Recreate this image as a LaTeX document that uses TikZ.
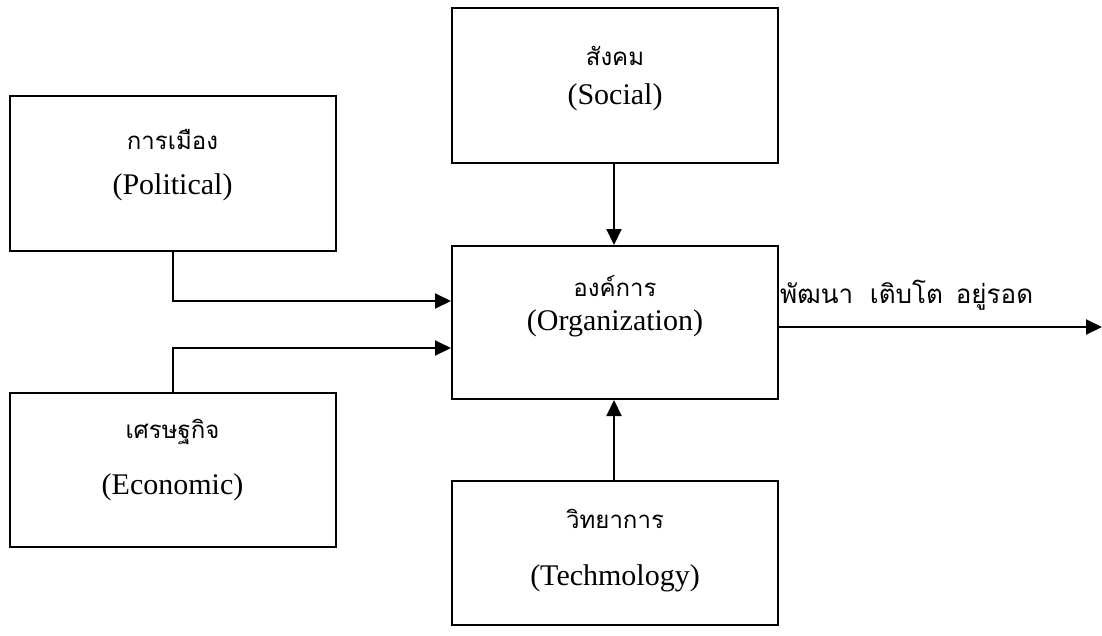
\documentclass[tikz,border=0pt]{standalone}
\usepackage{fontspec}
\setmainfont{Liberation Serif}
\newfontfamily\thaifont[Script=Thai]{Loma}
\usetikzlibrary{arrows.meta,positioning}

\tikzset{
  box/.style={draw, line width=2pt, minimum width=326pt, inner sep=0pt},
  thai/.style={font=\thaifont\fontsize{24}{28}\selectfont, inner sep=0pt},
  eng/.style={font=\fontsize{30}{36}\selectfont, inner sep=0pt},
  arr/.style={line width=2pt, -{Triangle[length=16pt,width=15pt]}}
}

\begin{document}
\begin{tikzpicture}[x=1pt,y=-1pt]
\useasboundingbox (0,0) rectangle (1102,635);

% the five boxes
\node[box, minimum height=155pt] (pol) at (172.5,173.5) {};
\node[box, minimum height=154pt] (eco) at (172.5,470) {};
\node[box, minimum height=155pt] (soc) at (615,85.5) {};
\node[box, minimum height=153pt] (org) at (615,322.5) {};
\node[box, minimum height=144pt] (tec) at (615,553) {};

% texts
\node[thai] (pol-th) at (172.5,139) {การเมือง};
\node[eng] (pol-en) at (172.5,187) {(Political)};

\node[thai] (eco-th) at (172.5,432) {เศรษฐกิจ};
\node[eng] (eco-en) at (172.5,487) {(Economic)};

\node[thai] (soc-th) at (615,56) {สังคม};
\node[eng] (soc-en) at (615,97) {(Social)};

\node[thai] (org-th) at (615,286) {องค์การ};
\node[eng] (org-en) at (615,323) {(Organization)};

\node[thai] (tec-th) at (615,519) {วิทยาการ};
\node[eng] (tec-en) at (615,578) {(Techmology)};

\coordinate (out) at (1102,327);
\node[font=\thaifont\fontsize{26}{30}\selectfont, inner sep=0pt, anchor=base west] (grow) at (780,303) {พัฒนา\hspace{8pt} เติบโต\hspace{4pt} อยู่รอด};

% connectors
\draw[arr] (pol.south) |- (org.west |- 0,301);
\draw[arr] (eco.north) |- (org.west |- 0,348);
\draw[arr] (soc.south -| 614,0) -- (org.north -| 614,0);
\draw[arr] (tec.north -| 614,0) -- (org.south -| 614,0);
\draw[arr] (org.east |- out) -- (out);
\end{tikzpicture}
\end{document}
